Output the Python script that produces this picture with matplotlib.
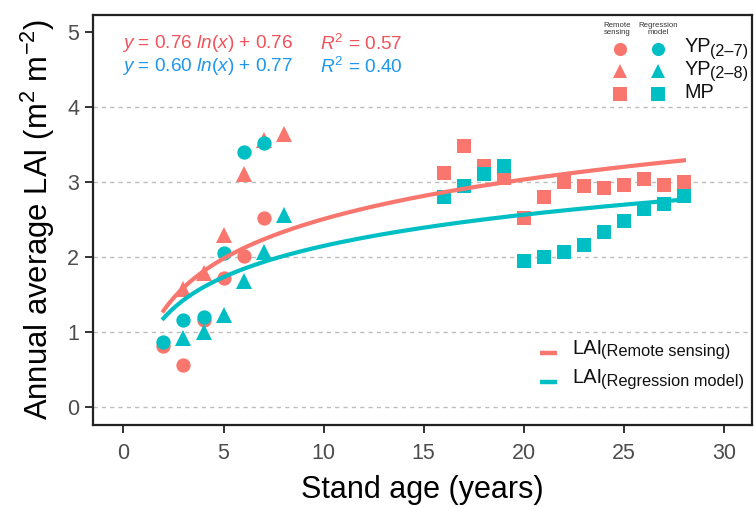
import numpy as np
import matplotlib
matplotlib.use("Agg")
import matplotlib.pyplot as plt

plt.rcParams['font.family'] = ['Liberation Sans', 'DejaVu Sans']
plt.rcParams['mathtext.fontset'] = 'custom'
plt.rcParams['mathtext.rm'] = 'Liberation Sans'
plt.rcParams['mathtext.it'] = 'Liberation Sans:italic'
plt.rcParams['mathtext.bf'] = 'Liberation Sans:bold'

# ---------------- data ----------------
# YP(2-7): circles
yp27_age = [2, 3, 4, 5, 6, 7]
yp27_rs = [0.82, 0.56, 1.16, 1.72, 2.02, 2.53]
yp27_reg = [0.87, 1.17, 1.20, 2.06, 3.40, 3.53]
# YP(2-8): triangles
yp28_age = [3, 4, 5, 6, 7, 8]
yp28_rs = [1.58, 1.79, 2.30, 3.11, 3.56, 3.64]
yp28_reg = [0.92, 1.00, 1.23, 1.68, 2.07, 2.57]
# MP: squares
mp_age = [16, 17, 18, 19, 20, 21, 22, 23, 24, 25, 26, 27, 28]
mp_rs = [3.12, 3.48, 3.22, 3.06, 2.53, 2.81, 3.00, 2.95, 2.93, 2.96, 3.05, 2.97, 3.00]
mp_reg = [2.81, 2.95, 3.11, 3.22, 1.95, 2.01, 2.07, 2.17, 2.34, 2.48, 2.64, 2.71, 2.82]

# logarithmic fits as printed on the chart: y = a ln(x) + b, R^2
fit_rs = (0.76, 0.76, 0.57)
fit_reg = (0.60, 0.77, 0.40)
fit_range = (2, 28)

group_main = ['YP', 'YP', 'MP']
group_sub = ['(2–7)', '(2–8)', '']
source_headers = ['Remote\nsensing', 'Regression\nmodel']
line_main = ['LAI', 'LAI']
line_sub = ['(Remote sensing)', '(Regression model)']

RED = '#F8766D'
TEAL = '#00BFC4'
RED_TXT = '#F0525A'
BLUE_TXT = '#1E96EE'

fig = plt.figure(figsize=(7.55, 5.07), dpi=100)
ax = fig.add_axes([93/755, 82/507, 659/755, 410/507])

ms = {'o': 10.3, '^': 11.2, 's': 10.3}
groups = [(yp27_age, yp27_rs, yp27_reg, 'o'),
          (yp28_age, yp28_rs, yp28_reg, '^'),
          (mp_age, mp_rs, mp_reg, 's')]
for age, rs, reg, mk in groups:
    ax.plot(age, rs, linestyle='none', marker=mk, ms=ms[mk], color=RED,
            markeredgewidth=0, zorder=3)
for age, rs, reg, mk in groups:
    ax.plot(age, reg, linestyle='none', marker=mk, ms=ms[mk], color=TEAL,
            markeredgewidth=0, zorder=4)

xs = np.linspace(fit_range[0], fit_range[1], 200)
l1, = ax.plot(xs, fit_rs[0]*np.log(xs) + fit_rs[1], color=RED, lw=3, zorder=5)
l2, = ax.plot(xs, fit_reg[0]*np.log(xs) + fit_reg[1], color=TEAL, lw=3, zorder=5)

ax.set_xlim(-1.52, 31.4)
ax.set_ylim(-0.236, 5.23)
ax.set_xticks(range(0, 31, 5))
ax.set_yticks(range(0, 6))
ax.yaxis.grid(True, linestyle=(0, (3, 3)), color='#bdbdbd', lw=1)
ax.get_ygridlines()[-1].set_visible(False)
ax.set_axisbelow(True)
for sp in ax.spines.values():
    sp.set_linewidth(1.6)
    sp.set_color('#222222')
ax.tick_params(axis='both', length=6, width=1.4, color='#333333',
               labelsize=15.5, labelcolor='#4d4d4d')
ax.tick_params(axis='x', pad=7)
ax.tick_params(axis='y', pad=4)
ax.set_xlabel('Stand age (years)', fontsize=22, labelpad=8)
ax.set_ylabel(r'Annual average LAI (m$^{\mathregular{2}}$ m$^{\mathregular{-2}}$)',
              fontsize=22.3, labelpad=7)

# equations
for (a, b, r2), c, yy in [(fit_rs, RED_TXT, 0.93), (fit_reg, BLUE_TXT, 0.874)]:
    ax.text(0.044, yy, r'$\mathit{y}$ = %.2f $\mathit{ln}$($\mathit{x}$) + %.2f' % (a, b),
            transform=ax.transAxes, color=c, fontsize=13.7, va='center', ha='left')
    ax.text(0.344, yy, r'$\mathit{R}^{\mathregular{2}}$ = %.2f' % r2,
            transform=ax.transAxes, color=c, fontsize=13.7, va='center', ha='left')


def label_with_sub(x, y, main, sub, fs_main, fs_sub, dx=0.0, dy=-1.5):
    t = ax.text(x, y, main, transform=ax.transAxes, fontsize=fs_main,
                ha='left', va='center', color='#111111')
    if sub:
        ax.annotate(sub, xy=(1, 0), xycoords=t, xytext=(dx, dy),
                    textcoords='offset points', fontsize=fs_sub,
                    ha='left', va='baseline', color='#111111')
    return t


# custom top-right key
col_x = [0.795, 0.858]
row_y = [0.917, 0.863, 0.807]
for cx, hdr in zip(col_x, source_headers):
    ax.text(cx, 0.966, hdr, transform=ax.transAxes, fontsize=5.6, ha='center',
            va='center', color='#333333', linespacing=1.05)
for i, mk in enumerate(['o', '^', 's']):
    ax.plot([col_x[0] + 0.004], [row_y[i]], marker=mk, ms=ms[mk]*0.92, color=RED, mew=0,
            transform=ax.transAxes, clip_on=False)
    ax.plot([col_x[1]], [row_y[i]], marker=mk, ms=ms[mk]*0.92, color=TEAL, mew=0,
            transform=ax.transAxes, clip_on=False)
    label_with_sub(0.897, row_y[i] + 0.005, group_main[i], group_sub[i], 14.3, 11.6,
                   dx=-0.5, dy=0.5)

# bottom-right line key
lrow_y = [0.175, 0.104]
for ln, yy, m, s in zip([l1, l2], lrow_y, line_main, line_sub):
    ax.plot([0.678, 0.704], [yy, yy], color=ln.get_color(), lw=3.2,
            transform=ax.transAxes, solid_capstyle='butt')
    label_with_sub(0.728, yy + 0.012, m, s, 14.5, 11.8, dx=-1.0, dy=1.0)

fig.savefig('out.png', dpi=100)
